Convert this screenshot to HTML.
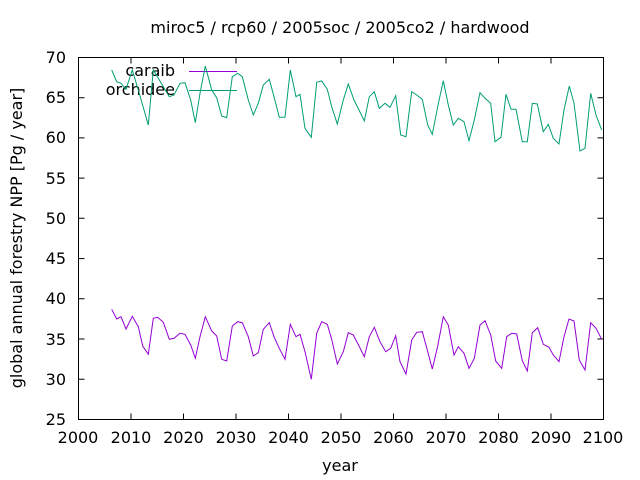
<!DOCTYPE html>
<html><head><meta charset="utf-8"><style>body{margin:0;background:#fff}svg{display:block}text{font-family:"DejaVu Sans",sans-serif;font-size:16px;fill:#000}</style></head><body>
<svg width="640" height="480" viewBox="0 0 640 480">
<g stroke="#000" stroke-width="1" fill="none">
<rect x="78.5" y="57.5" width="525" height="362"/>
<path d="M78.5 97.7h6M78.5 137.9h6M78.5 178.1h6M78.5 218.3h6M78.5 258.6h6M78.5 298.8h6M78.5 339h6M78.5 379.2h6M603.5 97.7h-6M603.5 137.9h-6M603.5 178.1h-6M603.5 218.3h-6M603.5 258.6h-6M603.5 298.8h-6M603.5 339h-6M603.5 379.2h-6M131 419.5v-6M183.5 419.5v-6M236 419.5v-6M288.5 419.5v-6M341 419.5v-6M393.5 419.5v-6M446 419.5v-6M498.5 419.5v-6M551 419.5v-6M131 57.5v6M183.5 57.5v6M236 57.5v6M288.5 57.5v6M341 57.5v6M393.5 57.5v6M446 57.5v6M498.5 57.5v6M551 57.5v6"/>
</g>
<g text-anchor="end">
<text x="66" y="63">70</text><text x="66" y="103">65</text><text x="66" y="143">60</text><text x="66" y="184">55</text><text x="66" y="224">50</text><text x="66" y="264">45</text><text x="66" y="304">40</text><text x="66" y="345">35</text><text x="66" y="385">30</text><text x="66" y="425">25</text>
</g>
<g text-anchor="middle">
<text x="78" y="443">2000</text><text x="131" y="443">2010</text><text x="183.5" y="443">2020</text><text x="236" y="443">2030</text><text x="288.5" y="443">2040</text><text x="341" y="443">2050</text><text x="393.5" y="443">2060</text><text x="446" y="443">2070</text><text x="498.5" y="443">2080</text><text x="551" y="443">2090</text><text x="603" y="443">2100</text>
<text x="340" y="471">year</text>
<text x="340" y="33">miroc5 / rcp60 / 2005soc / 2005co2 / hardwood</text>
<text transform="translate(22,238) rotate(-90)">global annual forestry NPP [Pg / year]</text>
</g>
<text x="175" y="76" text-anchor="end">caraib</text>
<text x="175" y="95" text-anchor="end">orchidee</text>
<path d="M189 71.5h48" stroke="#9400d3" stroke-width="1"/>
<path d="M189 90.5h48" stroke="#009e73" stroke-width="1"/>
<polyline fill="none" stroke="#9400d3" stroke-width="1" points="111.7,309.3 116.7,319 121,316.7 126,329 132.3,316.3 138.3,326.7 142.7,346 148.3,354.3 153.3,318.3 157.7,317.3 163.3,322.3 169.3,339.3 174,338.3 180,333.3 185,334.3 190.7,345 195.3,358.3 200,336.7 205.3,316.7 211.7,331 216.7,336 221.7,359.3 226.7,361 232.3,326 237.7,321.7 242.3,322.7 248.3,336.7 253.3,356 258.3,352.7 263.3,329.3 269.3,322.7 274,336.7 279.3,348.3 285,359.3 290.3,324.3 296,336.7 300,334.3 305,351.7 311.3,379.3 316.7,333.3 321.7,321.7 327.3,324.3 331.7,339.3 337.3,364 343.3,351.7 348.3,332.7 353.3,335 359,346 364.3,356.7 369.3,336.7 374.3,327.3 380,341.7 385.7,351.7 390.7,348.3 395.7,335.7 400,361.7 406,374 411.7,340 416.7,332.3 422.3,331.7 427.3,350 432.3,369 437.7,346 443.3,316.7 448.3,325 454,355 458.3,346.7 464,353.3 469,368.3 474.3,358.3 480,325 485,320.7 490.7,335 495.7,361 501.7,368.3 506.7,336.7 511.7,333.3 516.7,334 522.3,360.7 527.3,371 532.3,332.7 537.7,327.7 543.3,344.3 549,347.3 553.3,355 559,361.7 564,336.7 569,319 574,321 579.3,360 585,370 590.7,322.7 596,328.3 601.7,339.3"/>
<polyline fill="none" stroke="#009e73" stroke-width="1" points="111.7,70 116.7,81.7 121,83.3 126,89.3 132.3,70 138.3,90 148.3,125 153.3,70 158.3,78.3 163.3,86.7 169.3,96.7 174,95 180,83.3 185,82.7 190.7,100 195.3,122.7 200,93.3 205.3,66 211.7,90 216.7,97.7 221.7,116 226.7,117.7 232.3,76.7 237.7,73.3 242.3,76.7 248.3,100 253.3,115 258.3,103.3 263.3,85 269.3,79.3 274,96.7 279.3,117.3 285,117.3 290.3,70 296,96.7 300,94.3 305,128.3 311.3,137.3 316.7,82.3 321.7,81 327.3,89.3 331.7,106.7 337.3,124 343.3,100 348.3,84 354,100 359,110 364.3,121 369.3,96.7 374.3,91.7 379.3,108.3 385,103.3 390,107.3 395.7,95.7 400.7,135 406,136.7 411.7,91.7 416.7,95 422.3,99.3 427.7,125 432.3,134.3 437.7,106.7 443.3,80.7 448.3,105 453.3,125 458.3,118.3 464,121.7 469,140.7 474.3,120 480,92.7 485,98.3 490.7,103.3 495,141.7 501,137.3 506,94.3 511,109.3 516,109.3 522.3,141.7 527.3,141.7 532.3,103.3 537.3,104 543.3,131.7 548.3,124.3 553.3,138.3 559,144 564,110 569.3,86 574,103.3 580,151 585,148.3 590.7,93.3 596,115 601.7,130"/>
</svg>
</body></html>
